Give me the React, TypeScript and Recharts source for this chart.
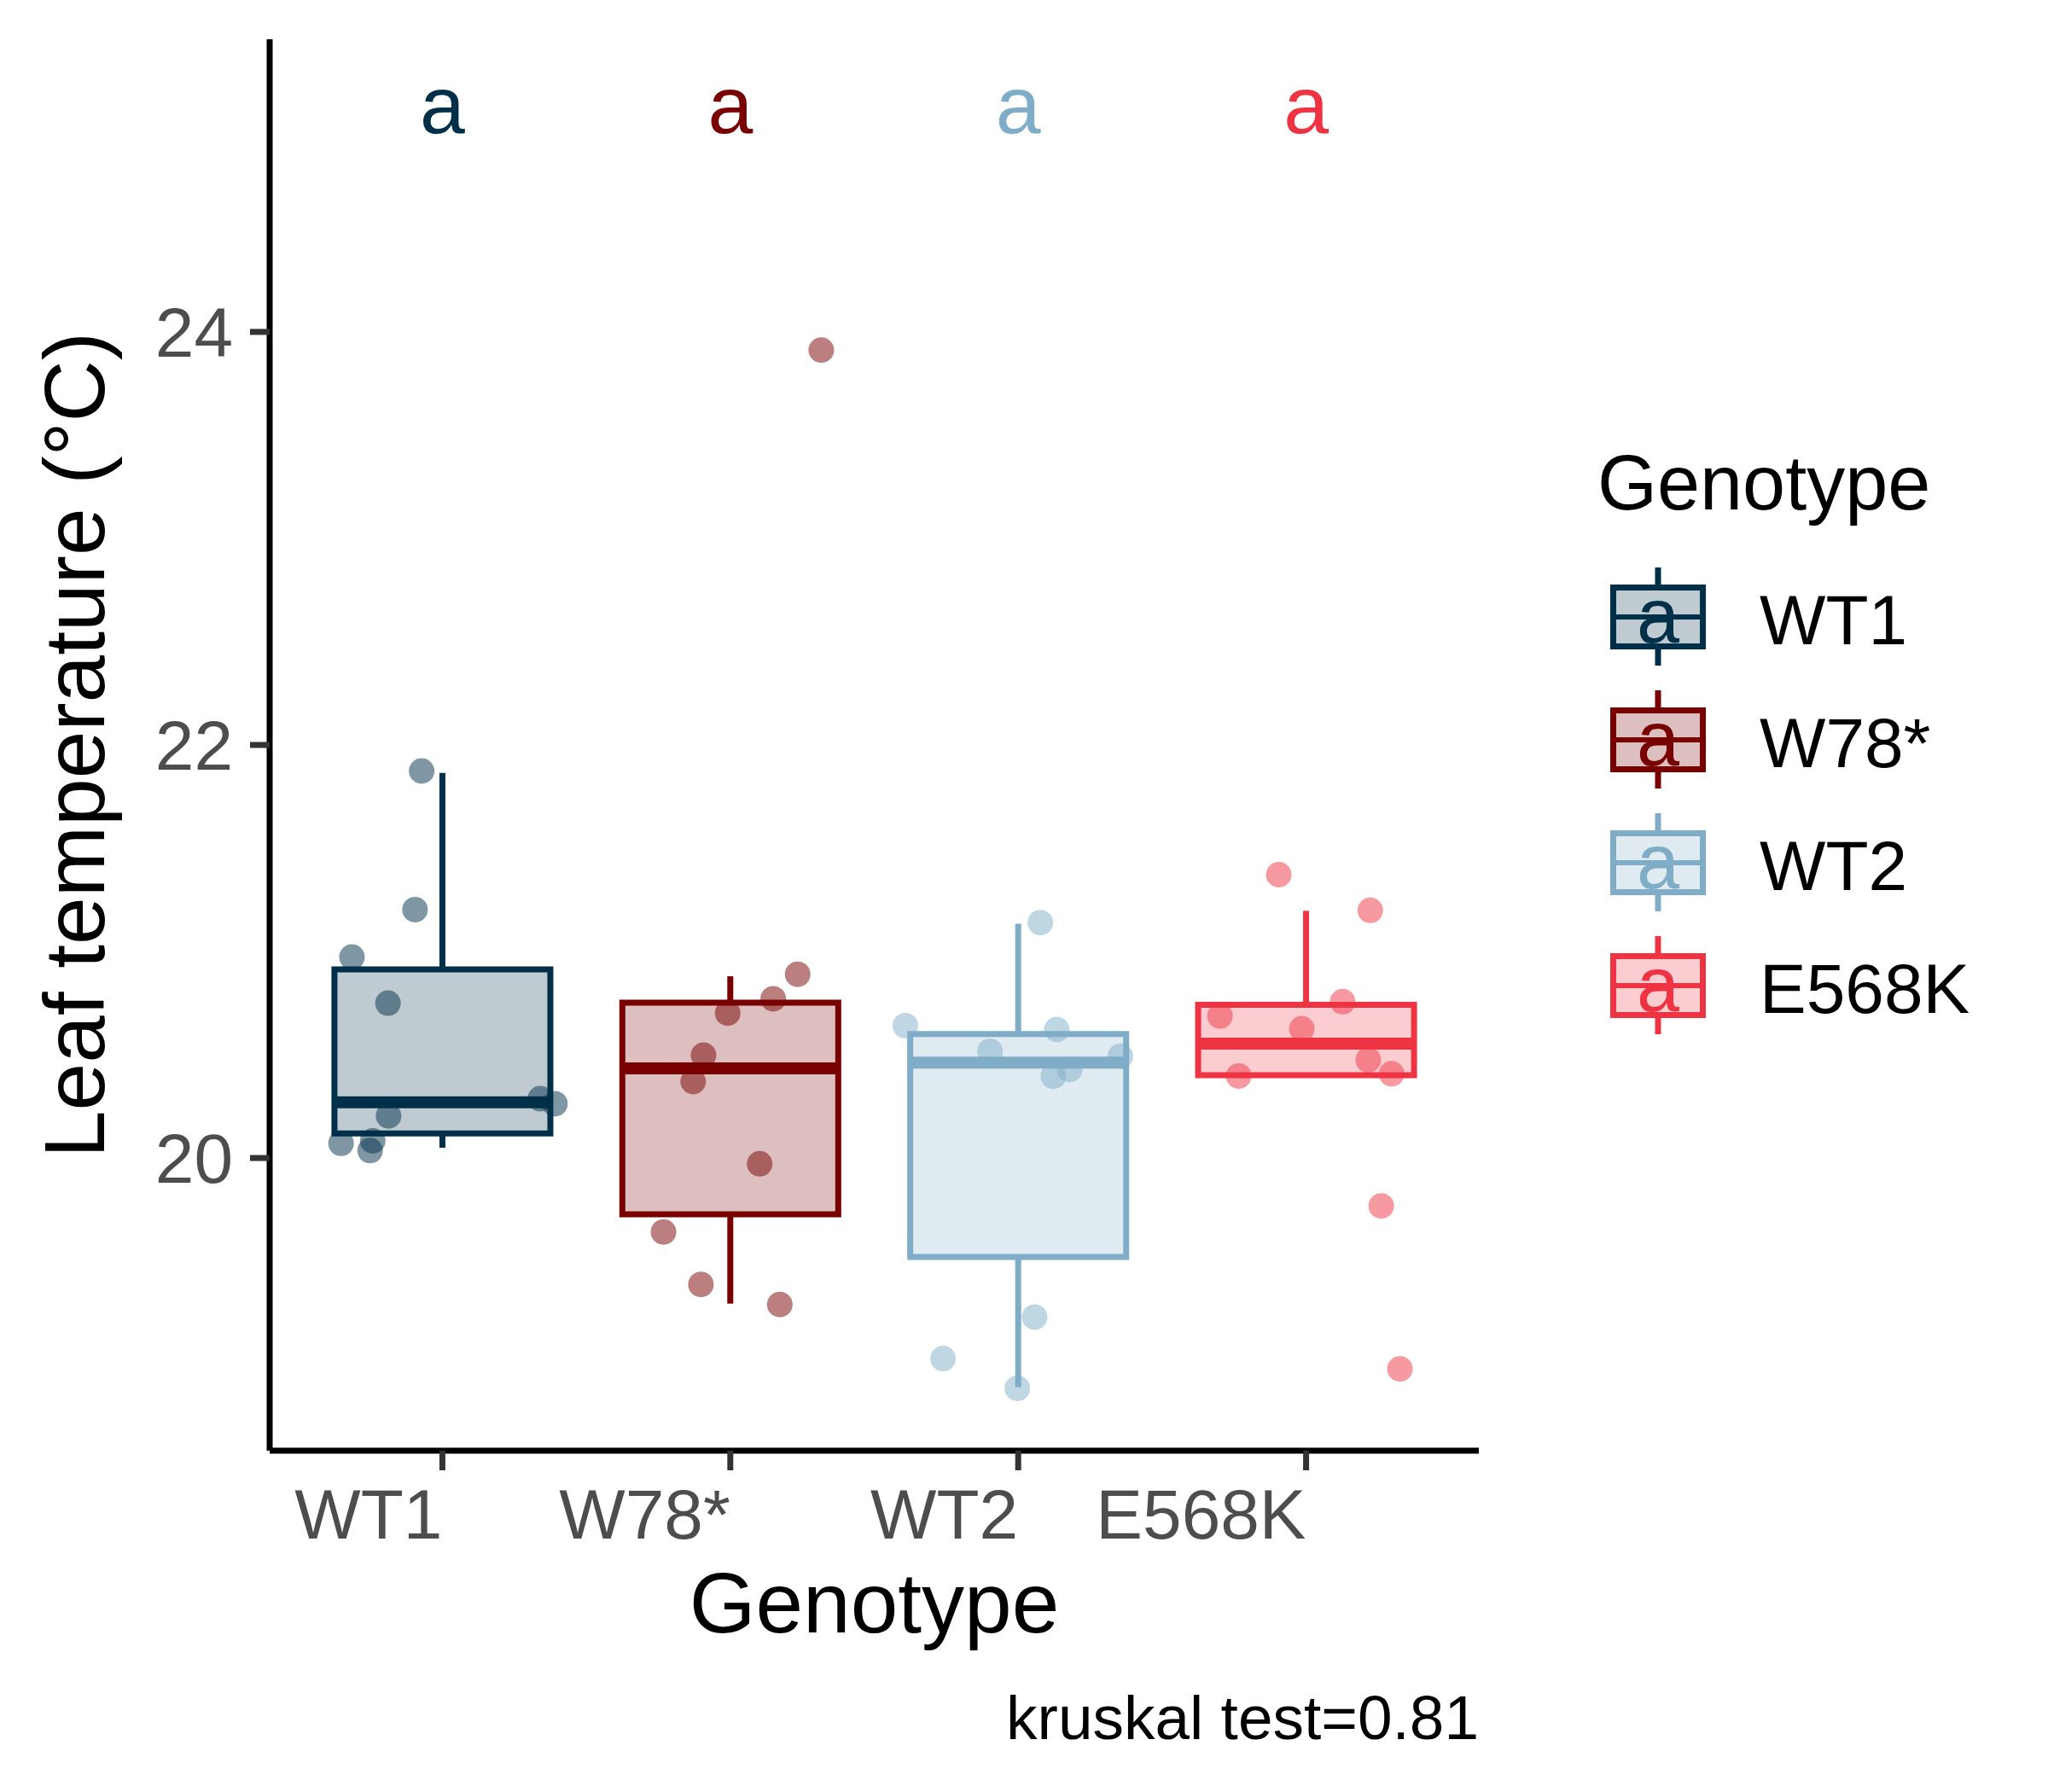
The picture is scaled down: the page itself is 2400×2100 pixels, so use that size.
import { ScatterChart, Scatter, XAxis, YAxis, ReferenceArea, ReferenceLine, Legend } from 'recharts'

const FONT = '"Liberation Sans", Arial, Helvetica, sans-serif'

const GENOTYPES = ['WT1', 'W78*', 'WT2', 'E568K']
const COLORS = ['#003049', '#780000', '#7FADC8', '#EE3342']
const LETTERS = ['a', 'a', 'a', 'a']
const LETTER_Y = 25.1

// box statistics
const WHISKER_LOW = [20.05, 19.295, 18.891, 20.397]
const Q1 = [20.119, 19.727, 19.521, 20.401]
const MEDIAN = [20.27, 20.434, 20.462, 20.554]
const Q3 = [20.913, 20.752, 20.6, 20.742]
const WHISKER_HIGH = [21.865, 20.88, 21.134, 21.197]

// jittered points: horizontal offset from the category centre, and the value
const WT1_JITTER = [-0.072, -0.095, -0.314, -0.189, 0.34, 0.391, -0.187, -0.242, -0.352, -0.251]
const WT1_VALUES = [21.874, 21.203, 20.973, 20.75, 20.287, 20.263, 20.204, 20.083, 20.071, 20.036]
const W78_JITTER = [0.316, 0.234, 0.149, -0.009, -0.093, -0.129, 0.102, -0.232, -0.102, 0.172]
const W78_VALUES = [23.912, 20.89, 20.771, 20.702, 20.498, 20.37, 19.972, 19.642, 19.388, 19.291]
const WT2_JITTER = [0.077, -0.392, 0.134, -0.098, 0.355, 0.122, 0.179, 0.057, -0.261, -0.003]
const WT2_VALUES = [21.14, 20.641, 20.622, 20.517, 20.493, 20.396, 20.429, 19.23, 19.029, 18.885]
const E568K_JITTER = [-0.095, 0.223, 0.127, -0.299, -0.015, 0.216, 0.297, -0.234, 0.261, 0.326]
const E568K_VALUES = [21.372, 21.199, 20.757, 20.688, 20.626, 20.475, 20.408, 20.397, 19.768, 18.979]

const JITTERS = [WT1_JITTER, W78_JITTER, WT2_JITTER, E568K_JITTER]
const VALUES = [WT1_VALUES, W78_VALUES, WT2_VALUES, E568K_VALUES]

const Y_DOMAIN = [18.583, 25.417]
const Y_TICKS = [20, 22, 24]
const X_TICKS = [0, 1, 2, 3]
const HALF_BOX = 0.375

const pointsFor = (i: number) => VALUES[i].map((v, k) => ({ x: i + JITTERS[i][k], y: v }))
const letterData = GENOTYPES.map((_, i) => ({ x: i, y: LETTER_Y, label: LETTERS[i], color: COLORS[i] }))

const XTick = ({ x, y, payload }: any) => (
  <text x={x} y={y} dy={59} textAnchor="end" fontSize={82} fill="#4D4D4D">
    {GENOTYPES[payload.value]}
  </text>
)

const renderXTitle = ({ viewBox }: any) => {
  const { x, y, width } = viewBox
  return (
    <g>
      <text x={x + width / 2} y={y + 213} textAnchor="middle" fontSize={100} fill="#000">
        Genotype
      </text>
      <text x={x + width} y={y + 338} textAnchor="end" fontSize={73} fill="#000">
        kruskal test=0.81
      </text>
    </g>
  )
}

const renderYTitle = ({ viewBox }: any) => {
  const { x, y, height } = viewBox
  return (
    <text
      transform={`translate(${x + 22}, ${y + height / 2}) rotate(-90)`}
      textAnchor="middle"
      fontSize={100}
      fill="#000"
    >
      Leaf temperature (°C)
    </text>
  )
}

const LegendContent = () => (
  <svg width={530} height={720}>
    <text x={2} y={97} fontSize={90} fill="#000">
      Genotype
    </text>
    {GENOTYPES.map((g, i) => {
      const cy = 223 + i * 144
      return (
        <g key={g}>
          <line x1={73} x2={73} y1={cy - 58} y2={cy - 34} stroke={COLORS[i]} strokeWidth={7} />
          <line x1={73} x2={73} y1={cy + 34} y2={cy + 57} stroke={COLORS[i]} strokeWidth={7} />
          <rect x={20.5} y={cy - 34.5} width={105} height={69} fill={COLORS[i]} fillOpacity={0.25} stroke={COLORS[i]} strokeWidth={7} />
          <line x1={20.5} x2={125.5} y1={cy} y2={cy} stroke={COLORS[i]} strokeWidth={6} />
          <text x={73} y={cy + 30} textAnchor="middle" fontSize={90} fill={COLORS[i]}>
            {LETTERS[i]}
          </text>
          <text x={192} y={cy + 32} fontSize={82} fill="#000">
            {g}
          </text>
        </g>
      )
    })}
  </svg>
)

export default function App() {
  return (
    <div style={{ width: 2400, height: 2100, background: '#fff', fontFamily: FONT }}>
      <style>{'body{margin:0;}'}</style>
      <ScatterChart width={2400} height={2100} margin={{ top: 46, right: 667, bottom: 150, left: 100 }}>
        <XAxis
          type="number"
          dataKey="x"
          domain={[-0.6, 3.6]}
          allowDataOverflow
          ticks={X_TICKS}
          interval={0}
          height={250}
          tick={<XTick />}
          tickSize={23}
          tickMargin={21}
          axisLine={{ stroke: '#000', strokeWidth: 7 }}
          tickLine={{ stroke: '#333333', strokeWidth: 7 }}
          label={renderXTitle}
        />
        <YAxis
          type="number"
          dataKey="y"
          domain={Y_DOMAIN}
          allowDataOverflow
          ticks={Y_TICKS}
          interval={0}
          width={216}
          tick={{ fontSize: 82, fill: '#4D4D4D' }}
          tickSize={23}
          tickMargin={20}
          axisLine={{ stroke: '#000', strokeWidth: 7 }}
          tickLine={{ stroke: '#333333', strokeWidth: 7 }}
          label={renderYTitle}
        />
        {GENOTYPES.map((g, i) => (
          <ReferenceLine
            key={`wh-${g}`}
            segment={[{ x: i, y: Q3[i] }, { x: i, y: WHISKER_HIGH[i] }]}
            stroke={COLORS[i]}
            strokeWidth={7}
          />
        ))}
        {GENOTYPES.map((g, i) => (
          <ReferenceLine
            key={`wl-${g}`}
            segment={[{ x: i, y: WHISKER_LOW[i] }, { x: i, y: Q1[i] }]}
            stroke={COLORS[i]}
            strokeWidth={7}
          />
        ))}
        {GENOTYPES.map((g, i) => (
          <ReferenceArea
            key={`box-${g}`}
            x1={i - HALF_BOX}
            x2={i + HALF_BOX}
            y1={Q1[i]}
            y2={Q3[i]}
            fill={COLORS[i]}
            fillOpacity={0.25}
            stroke={COLORS[i]}
            strokeWidth={7}
            strokeOpacity={1}
          />
        ))}
        {GENOTYPES.map((g, i) => (
          <ReferenceLine
            key={`med-${g}`}
            segment={[{ x: i - HALF_BOX, y: MEDIAN[i] }, { x: i + HALF_BOX, y: MEDIAN[i] }]}
            stroke={COLORS[i]}
            strokeWidth={14}
          />
        ))}
        {GENOTYPES.map((g, i) => (
          <Scatter
            key={`pts-${g}`}
            name={g}
            data={pointsFor(i)}
            isAnimationActive={false}
            shape={(p: any) => <circle cx={p.cx} cy={p.cy} r={15} fill={COLORS[i]} fillOpacity={0.5} />}
          />
        ))}
        <Scatter
          data={letterData}
          isAnimationActive={false}
          shape={(p: any) => (
            <text x={p.cx} y={p.cy} dy="0.35em" textAnchor="middle" fontSize={95} fill={p.payload.color}>
              {p.payload.label}
            </text>
          )}
        />
        <Legend
          layout="vertical"
          align="center"
          verticalAlign="middle"
          content={LegendContent}
          wrapperStyle={{ left: 1870, top: 500, width: 530, height: 720 }}
        />
      </ScatterChart>
    </div>
  )
}
